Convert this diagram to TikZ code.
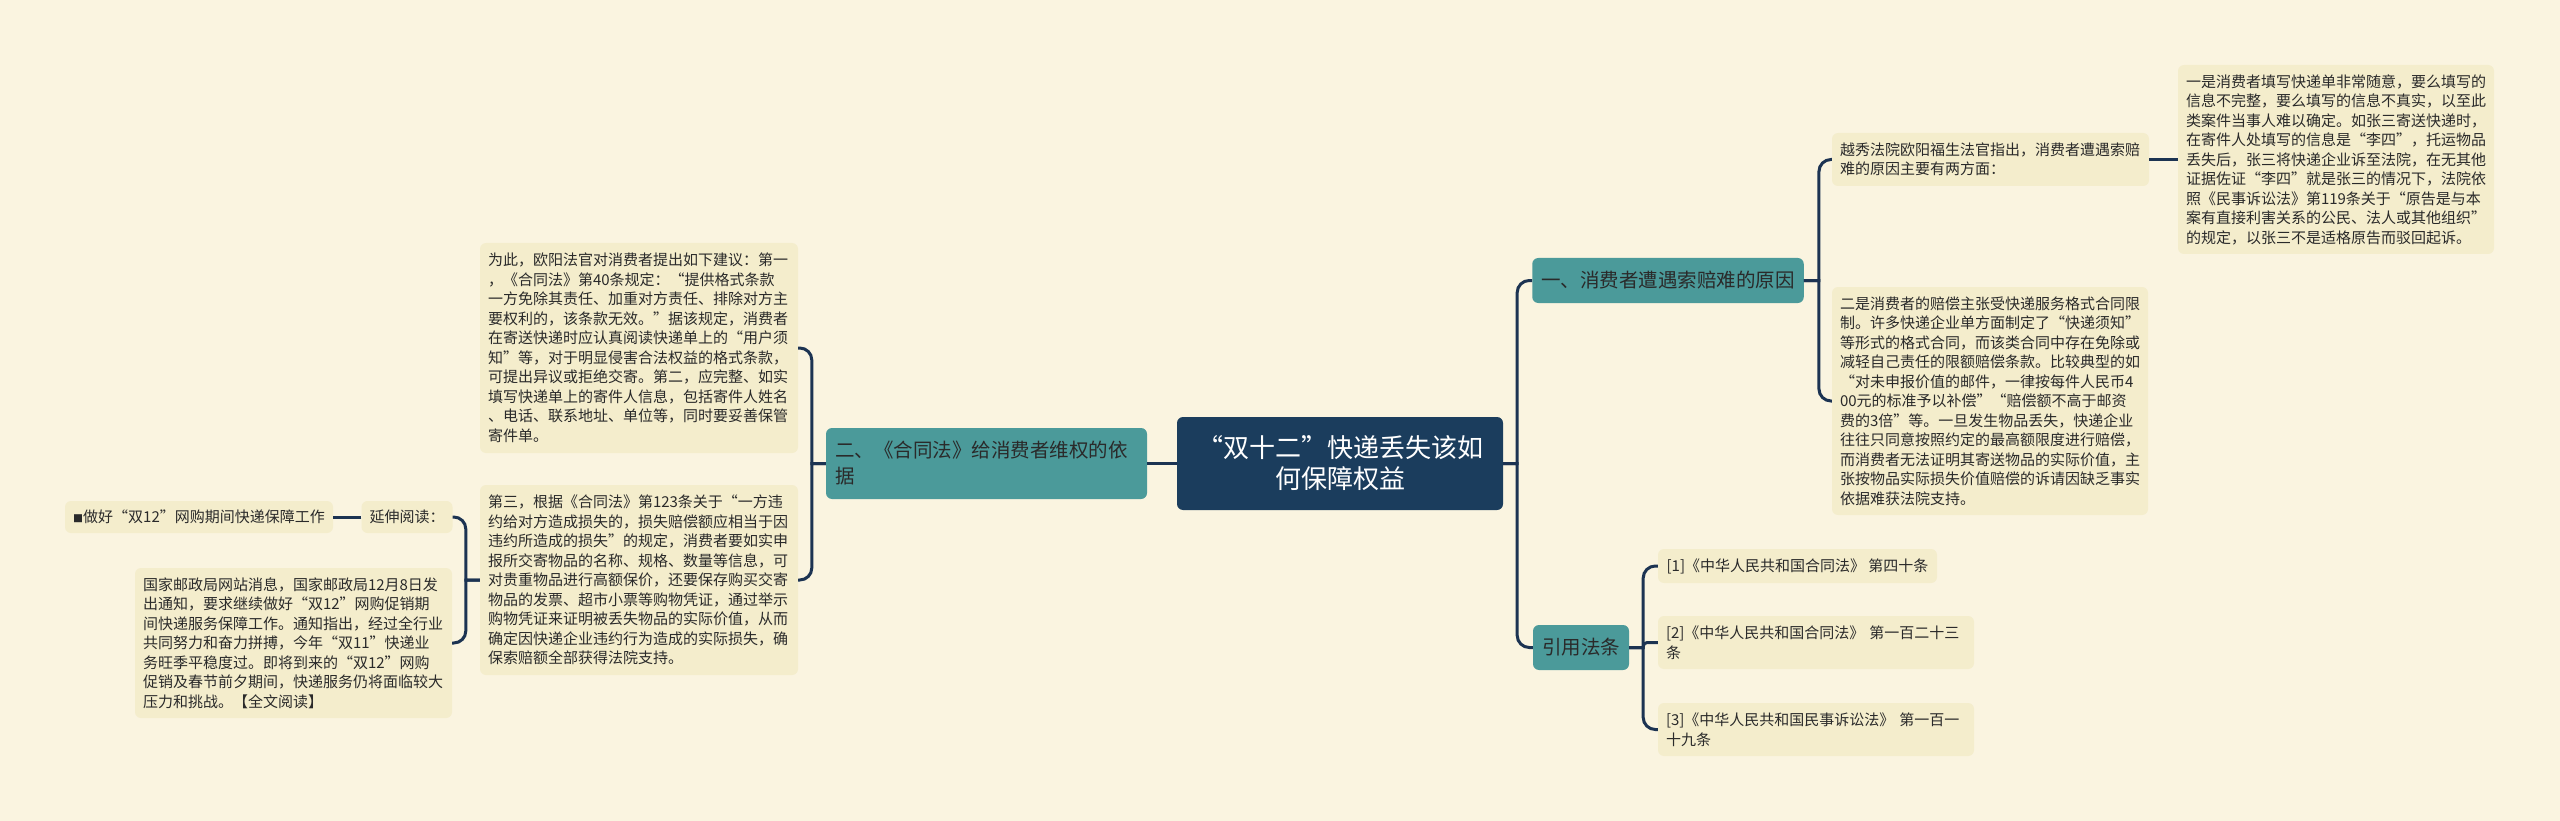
\documentclass[tikz,border=0pt]{standalone}
\usepackage{fontspec}
\setmainfont{Noto Sans CJK SC}
\definecolor{bgc}{HTML}{FAF4E0}
\definecolor{leafc}{HTML}{F4EDCC}
\definecolor{tealc}{HTML}{4B9A9A}
\definecolor{hubc}{HTML}{1B3D5D}
\definecolor{linec}{HTML}{1C3352}
\definecolor{txtc}{HTML}{2A2A2A}
\begin{document}
\begin{tikzpicture}[x=1pt,y=-1pt,
  hub/.style={fill=hubc, rounded corners=6pt, text=white, align=center,
    font=\fontsize{26}{31}\selectfont, minimum width=326pt, minimum height=93pt, text width=310pt, inner sep=0pt},
  topic/.style={fill=tealc, rounded corners=6pt, text=txtc, font=\fontsize{19.5}{26}\selectfont, inner xsep=9pt, inner ysep=0pt},
  leaf/.style={fill=leafc, rounded corners=6pt, text=txtc, align=left, font=\fontsize{15}{19.5}\selectfont, inner xsep=8pt, inner ysep=2pt},
  conn/.style={draw=linec, line width=3pt}
]
\fill[bgc] (0,0) rectangle (2560,821);

% central node and main branches
\node[hub] (c) at (1340,463.5) {“双十二”快递丢失该如\\何保障权益};
\node[topic, minimum width=270pt, minimum height=45pt] (b1) at (1668,280.5) {一、消费者遭遇索赔难的原因};
\node[topic, text width=303pt, align=left, minimum height=71pt] (b2) at (986.5,463.5) {二、《合同法》给消费者维权的依\\据};
\node[topic, minimum width=96pt, minimum height=45pt] (b3) at (1581,647.5) {引用法条};

% branch 1 leaves
\node[leaf, text width=301pt, minimum height=53pt] (l1) at (1990.5,159.5) {越秀法院欧阳福生法官指出，消费者遭遇索赔\\难的原因主要有两方面：};
\node[leaf, text width=300pt, minimum height=189pt] (l1a) at (2336,159.5) {一是消费者填写快递单非常随意，要么填写的\\信息不完整，要么填写的信息不真实，以至此\\类案件当事人难以确定。如张三寄送快递时，\\在寄件人处填写的信息是“李四”，托运物品\\丢失后，张三将快递企业诉至法院，在无其他\\证据佐证“李四”就是张三的情况下，法院依\\照《民事诉讼法》第119条关于“原告是与本\\案有直接利害关系的公民、法人或其他组织”\\的规定，以张三不是适格原告而驳回起诉。};
\node[leaf, text width=300pt, minimum height=228pt] (l2) at (1990,401) {二是消费者的赔偿主张受快递服务格式合同限\\制。许多快递企业单方面制定了“快递须知”\\等形式的格式合同，而该类合同中存在免除或\\减轻自己责任的限额赔偿条款。比较典型的如\\“对未申报价值的邮件，一律按每件人民币4\\00元的标准予以补偿”“赔偿额不高于邮资\\费的3倍”等。一旦发生物品丢失，快递企业\\往往只同意按照约定的最高额限度进行赔偿，\\而消费者无法证明其寄送物品的实际价值，主\\张按物品实际损失价值赔偿的诉请因缺乏事实\\依据难获法院支持。};

% branch 3 leaves
\node[leaf, minimum width=279pt, minimum height=34pt] (r1) at (1797.5,566) {[1]《中华人民共和国合同法》 第四十条};
\node[leaf, text width=300pt, minimum height=53pt] (r2) at (1816,642.5) {[2]《中华人民共和国合同法》 第一百二十三\\条};
\node[leaf, text width=300pt, minimum height=53pt] (r3) at (1816,729.5) {[3]《中华人民共和国民事诉讼法》 第一百一\\十九条};

% branch 2 leaves
\node[leaf, text width=302pt, minimum height=210pt] (p1) at (639,348) {为此，欧阳法官对消费者提出如下建议：第一\\，《合同法》第40条规定：“提供格式条款\\一方免除其责任、加重对方责任、排除对方主\\要权利的，该条款无效。”据该规定，消费者\\在寄送快递时应认真阅读快递单上的“用户须\\知”等，对于明显侵害合法权益的格式条款，\\可提出异议或拒绝交寄。第二，应完整、如实\\填写快递单上的寄件人信息，包括寄件人姓名\\、电话、联系地址、单位等，同时要妥善保管\\寄件单。};
\node[leaf, text width=302pt, minimum height=190pt] (p2) at (639,580) {第三，根据《合同法》第123条关于“一方违\\约给对方造成损失的，损失赔偿额应相当于因\\违约所造成的损失”的规定，消费者要如实申\\报所交寄物品的名称、规格、数量等信息，可\\对贵重物品进行高额保价，还要保存购买交寄\\物品的发票、超市小票等购物凭证，通过举示\\购物凭证来证明被丢失物品的实际价值，从而\\确定因快递企业违约行为造成的实际损失，确\\保索赔额全部获得法院支持。};
\node[leaf, minimum width=90pt, minimum height=32pt] (e1) at (407,517) {延伸阅读：};
\node[leaf, minimum width=268pt, minimum height=32pt] (e0) at (199,517) {{\fontsize{10}{10}\selectfont■}做好“双12”网购期间快递保障工作};
\node[leaf, text width=301pt, minimum height=150pt] (e2) at (293.5,643) {国家邮政局网站消息，国家邮政局12月8日发\\出通知，要求继续做好“双12”网购促销期\\间快递服务保障工作。通知指出，经过全行业\\共同努力和奋力拼搏，今年“双11”快递业\\务旺季平稳度过。即将到来的“双12”网购\\促销及春节前夕期间，快递服务仍将面临较大\\压力和挑战。【全文阅读】};

% connectors
\draw[conn] (c.west) -- (b2.east);
\draw[conn] (c.east) -- ++(14,0) [rounded corners=12pt] |- (b1.west);
\draw[conn] (c.east) -- ++(14,0) [rounded corners=12pt] |- (b3.west);
\draw[conn] (b1.east) -- ++(15,0) [rounded corners=12pt] |- (l1.west);
\draw[conn] (b1.east) -- ++(15,0) [rounded corners=12pt] |- (l2.west);
\draw[conn] (l1.east) -- (l1a.west);
\draw[conn] (b3.east) -- ++(14,0) [rounded corners=12pt] |- (r1.west);
\draw[conn] (b3.east) -- ++(14,0) [rounded corners=4pt] |- (r2.west);
\draw[conn] (b3.east) -- ++(14,0) [rounded corners=12pt] |- (r3.west);
\draw[conn] (b2.west) -- ++(-14,0) [rounded corners=12pt] |- (p1.east);
\draw[conn] (b2.west) -- ++(-14,0) [rounded corners=12pt] |- (p2.east);
\draw[conn] (p2.west) -- ++(-14,0) [rounded corners=12pt] |- (e1.east);
\draw[conn] (p2.west) -- ++(-14,0) [rounded corners=12pt] |- (e2.east);
\draw[conn] (e1.west) -- (e0.east);
\end{tikzpicture}
\end{document}
